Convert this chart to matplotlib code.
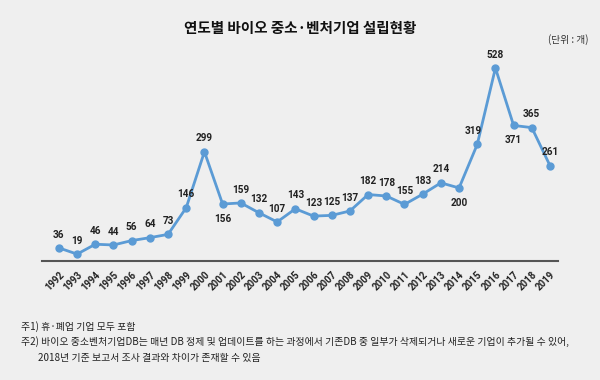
import matplotlib
matplotlib.use("Agg")
import matplotlib.pyplot as plt
import numpy as np

plt.rcParams['font.family'] = ['Noto Sans CJK KR', 'DejaVu Sans']

years = list(range(1992, 2020))
counts = [36, 19, 46, 44, 56, 64, 73, 146, 299, 156, 159, 132, 107, 143, 123,
          125, 137, 182, 178, 155, 183, 214, 200, 319, 528, 371, 365, 261]
title = "연도별 바이오 중소·벤처기업 설립현황"
unit = "(단위 : 개)"
notes = ["주1) 휴·폐업 기업 모두 포함",
         "주2) 바이오 중소벤처기업DB는 매년 DB 정제 및 업데이트를 하는 과정에서 기존DB 중 일부가 삭제되거나 새로운 기업이 추가될 수 있어,",
         "2018년 기준 보고서 조사 결과와 차이가 존재할 수 있음"]

bg = '#efefef'
blue = '#5b9bd5'
num_font = dict(family=['Roboto', 'DejaVu Sans'], weight='bold', stretch='condensed')

fig = plt.figure(figsize=(6, 3.8), dpi=100, facecolor=bg)
ax = fig.add_axes([0.07, 0.313, 0.86, 0.582], facecolor=bg)

ax.plot(years, counts, color=blue, lw=2, marker='o', ms=5, zorder=3)

below = {2001, 2014, 2017}
for x, y in zip(years, counts):
    if x in below:
        ax.annotate(str(y), (x, y), xytext=(0, -7), textcoords='offset points',
                    ha='center', va='top', fontsize=7.2, color='#222222', **num_font)
    elif x == 2015:
        ax.annotate(str(y), (x, y), xytext=(-3, 6), textcoords='offset points',
                    ha='center', va='bottom', fontsize=7.2, color='#222222', **num_font)
    else:
        ax.annotate(str(y), (x, y), xytext=(0, 6), textcoords='offset points',
                    ha='center', va='bottom', fontsize=7.2, color='#222222', **num_font)

ax.set_xlim(1991.07, 2019.44)
ax.set_ylim(0, 605)
for s in ['top', 'right', 'left']:
    ax.spines[s].set_visible(False)
ax.spines['bottom'].set_color('#555555')
ax.spines['bottom'].set_linewidth(1.5)
ax.set_yticks([])
ax.set_xticks(years)
ax.set_xticklabels([str(y) for y in years], rotation=45, ha='right',
                   rotation_mode='anchor', fontsize=7, color='#222222', **num_font)
ax.tick_params(axis='x', length=0, pad=6)

fig.text(0.5, 0.925, title, ha='center', va='center', fontsize=10.5,
         weight='bold', color='#111111')
fig.text(0.98, 0.895, unit, ha='right', va='center', fontsize=7, color='#333333')

fig.text(0.035, 0.142, notes[0], ha='left', va='center', fontsize=7.1, color='#222222')
fig.text(0.035, 0.1, notes[1], ha='left', va='center', fontsize=7.1, color='#222222')
fig.text(0.063, 0.057, notes[2], ha='left', va='center', fontsize=7.1, color='#222222')

fig.savefig("out.png", dpi=100, facecolor=bg)
